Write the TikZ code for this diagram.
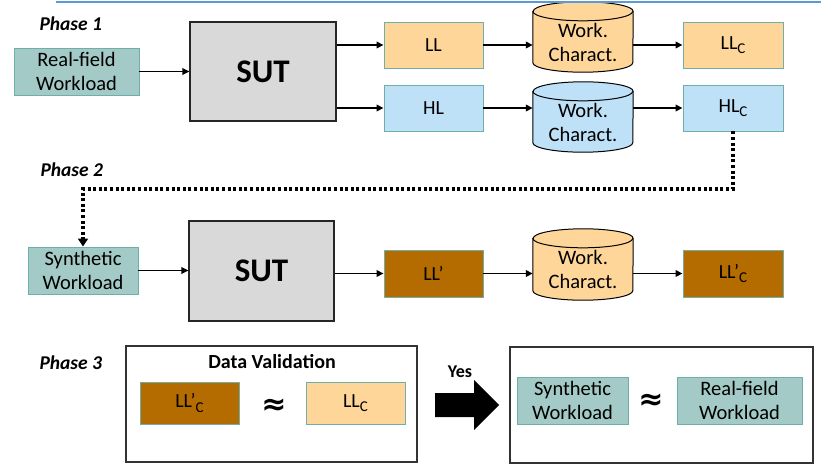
\documentclass[tikz,border=0pt]{standalone}
\usepackage{fontspec}
\setmainfont{Carlito}
\newfontfamily\symfont{DejaVu Sans}
\usetikzlibrary{arrows.meta,backgrounds}
\definecolor{tealfill}{RGB}{163,202,198}
\definecolor{tealline}{RGB}{110,175,170}
\definecolor{orfill}{RGB}{255,214,153}
\definecolor{bluefill}{RGB}{190,225,248}
\definecolor{brownfill}{RGB}{180,107,0}
\definecolor{sutfill}{RGB}{217,217,217}
\definecolor{topline}{RGB}{91,155,213}
\newcommand\subC{\raisebox{-0.22em}{\fontsize{15}{15}\selectfont C}}
\newcommand\drawcyl[1]{%
  \draw[cylline,fill=#1] ([yshift=-9.5pt]\cylname.north west) -- ([yshift=9.5pt]\cylname.south west)
    arc[start angle=180,end angle=360,x radius=50pt,y radius=9.5pt]
    -- ([yshift=-9.5pt]\cylname.north east)
    arc[start angle=0,end angle=180,x radius=50pt,y radius=9.5pt] -- cycle;
  \draw[cylline] ([yshift=-9.5pt]\cylname.north west)
    arc[start angle=180,end angle=360,x radius=50pt,y radius=9.5pt];}
\begin{document}
\begin{tikzpicture}[x=1pt,y=-1pt,
  box/.style={draw=tealline,line width=0.9pt,inner sep=0pt,align=center,
    font=\fontsize{20}{24}\selectfont},
  wl/.style={box,fill=tealfill,font=\fontsize{20.5}{24}\selectfont},
  sutbox/.style={draw=black!85,line width=1.1pt,fill=sutfill,inner sep=0pt,
    minimum width=146pt,minimum height=99pt,font=\fontsize{33}{36}\selectfont\bfseries},
  cylnode/.style={inner sep=0pt,minimum width=100pt,minimum height=70pt},
  cyltext/.style={align=center,inner sep=0pt,font=\fontsize{20.5}{24}\selectfont},
  cylline/.style={draw=black,line width=1pt},
  phase/.style={anchor=west,font=\fontsize{19.5}{22}\selectfont\bfseries\itshape},
  arr/.style={line width=1.9pt,-{Triangle[length=7pt,width=6.5pt]}},
  dots/.style={line width=3.2pt,dash pattern=on 3pt off 2.6pt,-{Triangle[length=8pt,width=10pt]}},
  frame/.style={draw=black!80,line width=1.1pt,fill=white,inner sep=0pt},
  approx/.style={font=\symfont\bfseries\fontsize{30}{30}\selectfont}]
\useasboundingbox (0,0) rectangle (821,471);
\begin{scope}[on background layer]
  \fill[white] (0,0) rectangle (821,471);
\end{scope}
\draw[topline,line width=2.5pt] (56,2) -- (821,2);

% Phase 1
\node[phase] (p1) at (36,24) {Phase 1};
\node[wl,minimum width=125pt,minimum height=47pt] (rw1) at (76.5,71.5) {Real-field\\Workload};
\node[sutbox] (sut1) at (263,71.5) {SUT};
\node[box,fill=orfill,minimum width=99pt,minimum height=46pt] (ll) at (433.5,45) {LL};
\node[box,fill=bluefill,minimum width=99pt,minimum height=46pt] (hl) at (433.5,108) {HL};
\node[cylnode,label={[name=cyl1t,cyltext,yshift=-5pt]center:Work.\\Charact.}] (cyl1) at (583,37) {};
\node[cylnode,label={[name=cyl2t,cyltext,yshift=-5pt]center:Work.\\Charact.}] (cyl2) at (583,117) {};
\node[box,fill=orfill,minimum width=100pt,minimum height=46pt] (llc) at (733,45) {LL\subC};
\node[box,fill=bluefill,minimum width=100pt,minimum height=46pt] (hlc) at (733,108) {HL\subC};

% Phase 2
\node[phase] (p2) at (37,170) {Phase 2};
\node[wl,minimum width=110pt,minimum height=47pt] (syn) at (83,270.5) {Synthetic\\Workload};
\node[sutbox,minimum width=145pt,minimum height=100pt] (sut2) at (261.5,271) {SUT};
\node[box,fill=brownfill,minimum width=99pt,minimum height=47pt] (llp) at (433.5,273.5) {LL’};
\node[cylnode,minimum height=71pt,label={[name=cyl3t,cyltext,yshift=-5pt]center:Work.\\Charact.}] (cyl3) at (583,264.5) {};
\node[box,fill=brownfill,minimum width=100pt,minimum height=47pt] (llpc) at (733,273.5) {LL’\subC};

\begin{scope}[on background layer]
  \def\cylname{cyl1}\drawcyl{orfill}
  \def\cylname{cyl2}\drawcyl{bluefill}
  \def\cylname{cyl3}\drawcyl{orfill}
\end{scope}

% Phase 3
\node[phase] (p3) at (36,363) {Phase 3};
\node[frame,minimum width=291pt,minimum height=116pt] (dv) at (271.5,404) {};
\node[font=\fontsize{20}{22}\selectfont\bfseries] (dvt) at (272,362) {Data Validation};
\node[box,fill=brownfill,minimum width=99pt,minimum height=42pt] (llpc2) at (189.5,403) {LL’\subC};
\node[approx] (ap1) at (274,407) {≈};
\node[box,fill=orfill,minimum width=99pt,minimum height=42pt] (llc2) at (355.5,403) {LL\subC};
\node[font=\fontsize{18}{20}\selectfont\bfseries] (yes) at (460,372) {Yes};
\fill[black] (435,393) -- (474,393) -- (474,380) -- (499,405) -- (474,430) -- (474,417) -- (435,417) -- cycle;
\node[frame,minimum width=303pt,minimum height=116pt] (res) at (661.5,405) {};
\node[wl,minimum width=111pt,minimum height=47pt] (syn2) at (572.5,400.5) {Synthetic\\Workload};
\node[approx] (ap2) at (651,402) {≈};
\node[wl,minimum width=125pt,minimum height=47pt] (rw2) at (739.5,400.5) {Real-field\\Workload};

% connectors
\draw[arr] (rw1.east) -- (rw1.east -| sut1.west);
\draw[arr] (sut1.east |- ll.west) -- (ll.west);
\draw[arr] (sut1.east |- hl.west) -- (hl.west);
\draw[arr] (ll.east) -- (ll.east -| cyl1.west);
\draw[arr] (hl.east) -- (hl.east -| cyl2.west);
\draw[arr] (cyl1.east |- llc.west) -- (llc.west);
\draw[arr] (cyl2.east |- hlc.west) -- (hlc.west);
\coordinate (d1) at (733,189);
\coordinate (d2) at (83,189);
\draw[dots] (hlc.south) -- (d1) -- (d2) -- (syn.north);
\draw[arr] (syn.east) -- (syn.east -| sut2.west);
\draw[arr] (sut2.east |- llp.west) -- (llp.west);
\draw[arr] (llp.east) -- (llp.east -| cyl3.west);
\draw[arr] (cyl3.east |- llpc.west) -- (llpc.west);
\end{tikzpicture}
\end{document}
